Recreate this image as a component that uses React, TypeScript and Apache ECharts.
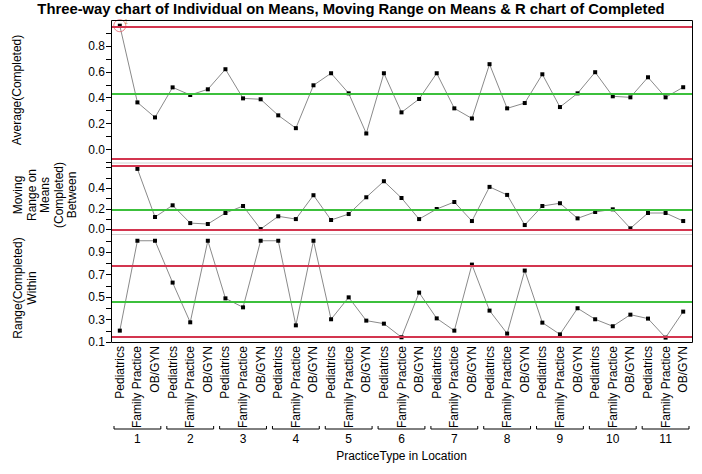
import React, { useEffect, useRef } from "react";
import * as echarts from "echarts";

const practiceTypes = ["Pediatrics", "Family Practice", "OB/GYN"];
const locations = ["1", "2", "3", "4", "5", "6", "7", "8", "9", "10", "11"];
const categories: string[] = [];
locations.forEach((l) => practiceTypes.forEach((p) => categories.push(p + "|" + l)));

const averages = [
  0.956, 0.364, 0.248, 0.48, 0.421, 0.465, 0.62, 0.395, 0.388, 0.264, 0.165,
  0.496, 0.589, 0.434, 0.124, 0.589, 0.287, 0.39, 0.589, 0.318, 0.24, 0.659,
  0.318, 0.359, 0.581, 0.328, 0.434, 0.597, 0.411, 0.403, 0.558, 0.403, 0.481,
];
const movingRanges: (number | null)[] = [
  null, 0.588, 0.12, 0.234, 0.061, 0.052, 0.159, 0.227, 0.003, 0.127, 0.1,
  0.332, 0.091, 0.149, 0.312, 0.468, 0.305, 0.1, 0.198, 0.266, 0.081, 0.413,
  0.335, 0.042, 0.227, 0.254, 0.107, 0.169, 0.195, 0.01, 0.159, 0.159, 0.081,
];
const ranges = [
  0.201, 1.0, 1.0, 0.628, 0.275, 1.0, 0.488, 0.408, 1.0, 1.0, 0.248,
  1.0, 0.302, 0.497, 0.29, 0.263, 0.142, 0.539, 0.31, 0.201, 0.788, 0.379,
  0.175, 0.735, 0.272, 0.168, 0.4, 0.302, 0.24, 0.343, 0.308, 0.139, 0.37,
];
// control limits: [LCL, center, UCL]
const avgLimits = [-0.073, 0.435, 0.946];
const mrLimits = [0, 0.188, 0.617];
const rLimits = [0.153, 0.464, 0.775];

const avgTicks = [-0.1, 0, 0.1, 0.2, 0.3, 0.4, 0.5, 0.6, 0.7, 0.8, 0.9];
const avgLabels = [0, 0.2, 0.4, 0.6, 0.8];
const mrTicks = [0, 0.1, 0.2, 0.3, 0.4, 0.5, 0.6];
const mrLabels = [0, 0.2, 0.4];
const rTicks = [0.1, 0.2, 0.3, 0.4, 0.5, 0.6, 0.7, 0.8, 0.9, 1.0];
const rLabels = [0.1, 0.3, 0.5, 0.7, 0.9];

const FONT = "Liberation Sans, Arial, sans-serif";
const RED = "#d3354f";
const GREEN = "#3cc03c";

const L = 111;
const W = 581;
const TOPS = [20, 162.5, 234];
const HEIGHTS = [142.5, 71.5, 108];

export default function App() {
  const ref = useRef<HTMLDivElement>(null);
  useEffect(() => {
    if (!ref.current) return;
    const chart = echarts.init(ref.current, undefined, { renderer: "svg" });

    const grids = TOPS.map((t, i) => ({ left: L, width: W, top: t, height: HEIGHTS[i], show: false }));
    const xAxes = [0, 1, 2].map((i) => ({
      type: "category",
      gridIndex: i,
      data: categories,
      boundaryGap: true,
      axisLine: { show: false },
      axisTick: { show: false },
      axisLabel: i === 2
        ? {
            show: true,
            rotate: 90,
            interval: 0,
            margin: 4,
            color: "#000",
            fontSize: 12,
            fontFamily: FONT,
            formatter: (v: string) => v.split("|")[0],
          }
        : { show: false },
      splitLine: { show: false },
    }));
    const mkY = (i: number, min: number, max: number, ticks: number[], labels: number[], digits: number) => ({
      type: "value",
      gridIndex: i,
      min,
      max,
      axisLine: { show: false },
      splitLine: { show: false },
      axisTick: { show: true, length: 5, lineStyle: { color: "#000" }, customValues: ticks },
      axisLabel: {
        show: true,
        color: "#000",
        fontSize: 12,
        fontFamily: FONT,
        margin: 6,
        customValues: labels,
        formatter: (v: number) => v.toFixed(digits),
      },
    });
    const yAxes = [
      mkY(0, -0.1, 1.0, avgTicks, avgLabels, 1),
      mkY(1, -0.045, 0.65, mrTicks, mrLabels, 1),
      mkY(2, 0.1, 1.06, rTicks, rLabels, 1),
    ];
    const limitLines = (lim: number[]) => ({
      silent: true,
      symbol: "none",
      label: { show: false },
      data: [
        { yAxis: lim[0], lineStyle: { color: RED, width: 2, type: "solid" } },
        { yAxis: lim[1], lineStyle: { color: GREEN, width: 2, type: "solid" } },
        { yAxis: lim[2], lineStyle: { color: RED, width: 2, type: "solid" } },
      ],
    });
    const lineSeries = (i: number, data: (number | null)[], lim: number[]) => ({
      type: "line",
      xAxisIndex: i,
      yAxisIndex: i,
      data,
      symbol: "rect",
      symbolSize: 4,
      showSymbol: true,
      connectNulls: false,
      lineStyle: { color: "#8a8a8a", width: 1 },
      itemStyle: { color: "#000" },
      markLine: limitLines(lim),
      z: 3,
    });

    const option: any = {
      animation: false,
      backgroundColor: "#fff",
      title: {
        text: "Three-way chart of Individual on Means, Moving Range on Means & R chart of Completed",
        left: "center",
        top: 0,
        padding: [1, 5, 1, 5],
        textStyle: { fontFamily: FONT, fontSize: 14.8, fontWeight: "bold", color: "#000" },
      },
      grid: grids,
      xAxis: xAxes,
      yAxis: yAxes,
      series: [
        lineSeries(0, averages, avgLimits),
        lineSeries(1, movingRanges, mrLimits),
        lineSeries(2, ranges, rLimits),
        {
          type: "scatter",
          xAxisIndex: 0,
          yAxisIndex: 0,
          data: [[0, averages[0]]],
          symbol: "circle",
          symbolSize: 12,
          itemStyle: { color: "rgba(0,0,0,0)", borderColor: "#e0606a", borderWidth: 1 },
          label: {
            show: true,
            formatter: "1",
            position: [11, -1],
            fontSize: 7,
            color: "#c08a40",
            fontFamily: FONT,
          },
          z: 4,
          silent: true,
        },
        {
          type: "custom",
          xAxisIndex: 2,
          yAxisIndex: 2,
          silent: true,
          clip: false,
          data: locations.map((_, g) => [g * 3 + 1, 0.5]),
          renderItem: (params: any, api: any) => {
            const c = api.coord([api.value(0), 0.5]);
            const band = api.size([1, 0])[0];
            const cs = params.coordSys;
            const yb = cs.y + cs.height + 87;
            const x0 = c[0] - 1.5 * band + 3;
            const x1 = c[0] + 1.5 * band - 3;
            return {
              type: "group",
              children: [
                {
                  type: "polyline",
                  shape: { points: [[x0, yb - 3], [x0, yb], [x1, yb], [x1, yb - 3]] },
                  style: { stroke: "#000", lineWidth: 1, fill: null },
                },
                {
                  type: "text",
                  style: {
                    text: locations[params.dataIndex],
                    x: c[0],
                    y: yb + 10,
                    align: "center",
                    verticalAlign: "middle",
                    fontSize: 12,
                    fontFamily: FONT,
                    fill: "#000",
                  },
                },
              ],
            };
          },
        },
      ],
      graphic: [
        {
          type: "rect",
          shape: { x: L + 0.5, y: TOPS[0] + 0.5, width: W, height: TOPS[2] + HEIGHTS[2] - TOPS[0] },
          style: { fill: "none", stroke: "#000", lineWidth: 1 },
          z: 10,
          silent: true,
        },
        {
          type: "line",
          shape: { x1: L, y1: TOPS[1] + 0.5, x2: L + W, y2: TOPS[1] + 0.5 },
          style: { stroke: "#d0d0d0", lineWidth: 1 },
          silent: true,
        },
        {
          type: "line",
          shape: { x1: L, y1: TOPS[2] + 0.5, x2: L + W, y2: TOPS[2] + 0.5 },
          style: { stroke: "#d0d0d0", lineWidth: 1 },
          silent: true,
        },
        {
          type: "text",
          x: 17,
          y: 90,
          rotation: Math.PI / 2,
          style: { text: "Average(Completed)", align: "center", verticalAlign: "middle", fontSize: 12, fontFamily: FONT, fill: "#000" },
        },
        {
          type: "text",
          x: 45,
          y: 195,
          rotation: Math.PI / 2,
          style: {
            text: "Moving\nRange on\nMeans\n(Completed)\nBetween",
            align: "center",
            verticalAlign: "middle",
            lineHeight: 13.5,
            fontSize: 12,
            fontFamily: FONT,
            fill: "#000",
          },
        },
        {
          type: "text",
          x: 25,
          y: 288,
          rotation: Math.PI / 2,
          style: {
            text: "Range(Completed)\nWithin",
            align: "center",
            verticalAlign: "middle",
            lineHeight: 14,
            fontSize: 12,
            fontFamily: FONT,
            fill: "#000",
          },
        },
        {
          type: "text",
          x: L + W / 2,
          y: 456,
          style: { text: "PracticeType in Location", align: "center", verticalAlign: "middle", fontSize: 12, fontFamily: FONT, fill: "#000" },
        },
      ],
    };
    chart.setOption(option);
    return () => chart.dispose();
  }, []);
  return <div ref={ref} style={{ width: 702, height: 474, position: "absolute", left: 0, top: 0 }} />;
}
